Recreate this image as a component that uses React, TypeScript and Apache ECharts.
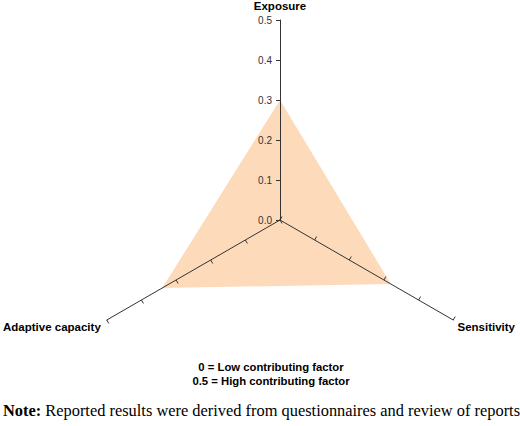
import React, { useEffect, useRef } from "react";
import * as echarts from "echarts";

const indicators = ["Exposure", "Adaptive capacity", "Sensitivity"];
const values = [0.3, 0.34, 0.32];
const axisMax = 0.5;
const tickStep = 0.1;
const legendLines = ["0 = Low contributing factor", "0.5 = High contributing factor"];
const noteLabel = "Note:";
const noteText = " Reported results were derived from questionnaires and review of reports";

const SANS = "Liberation Sans, Arial, sans-serif";
const SERIF = "Liberation Serif, Times New Roman, serif";

export default function App() {
  const ref = useRef<HTMLDivElement>(null);
  useEffect(() => {
    if (!ref.current) return;
    const chart = echarts.init(ref.current, null, { renderer: "svg" });
    const cx = 280, cy = 220, r = 200;
    const tickYAxis = (inside: boolean, labels: boolean) => ({
      type: "value",
      min: 0,
      max: axisMax,
      interval: tickStep,
      z: 10,
      axisLine: { show: false },
      axisTick: { show: true, inside, length: 3, lineStyle: { color: "#333" } },
      splitLine: { show: false },
      axisLabel: {
        show: labels,
        margin: 8,
        fontSize: 10,
        color: "#333",
        fontFamily: SANS,
        formatter: (v: number) => v.toFixed(1),
      },
    });
    chart.setOption({
      animation: false,
      radar: {
        center: [cx, cy],
        radius: r,
        startAngle: 90,
        shape: "polygon",
        splitNumber: 5,
        z: 3,
        indicator: indicators.map((n) => ({ name: n, min: 0, max: axisMax })),
        splitLine: { show: false },
        splitArea: { show: false },
        axisLabel: { show: false },
        axisName: { show: false },
        axisLine: { show: true, lineStyle: { color: "#333", width: 1 } },
        axisTick: { show: true, length: 4, lineStyle: { color: "#333" } },
      },
      grid: { left: cx, top: cy - r, width: 1, height: r, containLabel: false },
      xAxis: { type: "value", show: false },
      yAxis: [tickYAxis(false, true), tickYAxis(true, false)],
      series: [
        {
          type: "radar",
          z: 1,
          symbol: "none",
          lineStyle: { width: 0 },
          areaStyle: { color: "#FDDBBA", opacity: 1 },
          data: [{ value: values }],
        },
      ],
      graphic: [
        {
          type: "text",
          x: cx,
          y: 6,
          z: 10,
          style: {
            text: indicators[0],
            fontFamily: SANS,
            fontWeight: "bold",
            fontSize: 11.5,
            fill: "#000",
            align: "center",
            verticalAlign: "middle",
          },
        },
        {
          type: "text",
          x: 3,
          y: 327,
          z: 10,
          style: {
            text: indicators[1],
            fontFamily: SANS,
            fontWeight: "bold",
            fontSize: 11.5,
            fill: "#000",
            align: "left",
            verticalAlign: "middle",
          },
        },
        {
          type: "text",
          x: 515,
          y: 327,
          z: 10,
          style: {
            text: indicators[2],
            fontFamily: SANS,
            fontWeight: "bold",
            fontSize: 11.5,
            fill: "#000",
            align: "right",
            verticalAlign: "middle",
          },
        },
        {
          type: "text",
          x: 271,
          y: 367,
          style: {
            text: legendLines[0],
            fontFamily: SANS,
            fontWeight: "bold",
            fontSize: 11.3,
            fill: "#000",
            align: "center",
            verticalAlign: "middle",
          },
        },
        {
          type: "text",
          x: 271,
          y: 381,
          style: {
            text: legendLines[1],
            fontFamily: SANS,
            fontWeight: "bold",
            fontSize: 11.3,
            fill: "#000",
            align: "center",
            verticalAlign: "middle",
          },
        },
        {
          type: "text",
          x: 3,
          y: 410,
          style: {
            text: "{b|" + noteLabel + "}{n|" + noteText + "}",
            verticalAlign: "middle",
            rich: {
              b: { fontFamily: SERIF, fontWeight: "bold", fontSize: 16.4, fill: "#000" },
              n: { fontFamily: SERIF, fontSize: 16.4, fill: "#000" },
            },
          },
        },
      ],
    });
    return () => chart.dispose();
  }, []);
  return (
    <div
      ref={ref}
      style={{ position: "absolute", left: 0, top: 0, width: 520, height: 426, background: "#fff" }}
    />
  );
}
